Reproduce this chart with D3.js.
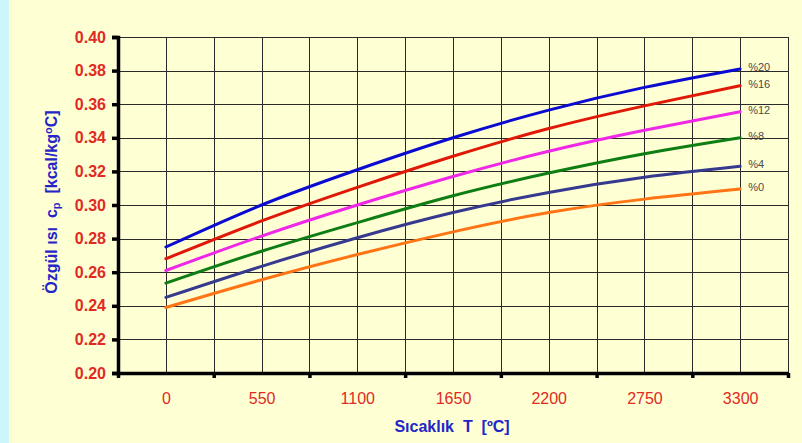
<!DOCTYPE html>
<html>
<head>
<meta charset="utf-8">
<script src="https://cdn.jsdelivr.net/npm/d3@7"></script>
<style>
  html, body { margin: 0; padding: 0; background: #ffffd4; }
  svg { display: block; font-family: Arial, "Liberation Sans", sans-serif; }
</style>
</head>
<body>
<svg id="chart"></svg>
<script>
// Categories on the x axis (temperature, ºC)
const temps = ["0", "550", "1100", "1650", "2200", "2750", "3300"];
const yTicks = [0.20, 0.22, 0.24, 0.26, 0.28, 0.30, 0.32, 0.34, 0.36, 0.38, 0.40];

// series names and values
const seriesNames = ["%20", "%16", "%12", "%8", "%4", "%0"];
const seriesColors = ["#0a0ad0", "#e01808", "#ee28e6", "#0e7e14", "#363a8e", "#ff7414"];
const s20 = [0.275, 0.300, 0.321, 0.340, 0.3565, 0.370, 0.381];
const s16 = [0.268, 0.2905, 0.3105, 0.329, 0.3455, 0.359, 0.371];
const s12 = [0.261, 0.2815, 0.300, 0.317, 0.332, 0.3445, 0.3555];
const s8  = [0.2535, 0.2725, 0.2895, 0.3055, 0.319, 0.3305, 0.340];
const s4  = [0.245, 0.2635, 0.2805, 0.2955, 0.3075, 0.3165, 0.323];
const s0  = [0.239, 0.2555, 0.2705, 0.284, 0.2955, 0.3035, 0.3095];
const seriesValues = [s20, s16, s12, s8, s4, s0];

const width = 802, height = 443;
const margin = { left: 118, right: 14, top: 37, bottom: 70 };

const svg = d3.select("#chart").attr("width", width).attr("height", height);

// background: cyan strip on the left, pale yellow elsewhere
svg.append("rect").attr("width", width).attr("height", height).attr("fill", "#ffffd4");
svg.append("rect").attr("width", 9).attr("height", height).attr("fill", "#ccf6fc");

// x is positioned by category index, boundaries at i +/- 0.5
const x = d3.scaleLinear()
    .domain([-0.5, temps.length - 0.5])
    .range([margin.left, width - margin.right]);
const y = d3.scaleLinear()
    .domain([0.20, 0.40])
    .range([height - margin.bottom, margin.top]);

// gridlines
const grid = svg.append("g").attr("stroke", "#2a2a2a").attr("stroke-width", 1);
grid.selectAll(".hg").data(yTicks).join("line")
    .attr("x1", x(-0.5)).attr("x2", x(temps.length - 0.5))
    .attr("y1", d => Math.round(y(d)) + 0.5).attr("y2", d => Math.round(y(d)) + 0.5);
const vLines = d3.range(-0.5, temps.length, 0.5);
grid.selectAll(".vg").data(vLines).join("line")
    .attr("x1", d => Math.round(x(d)) + 0.5).attr("x2", d => Math.round(x(d)) + 0.5)
    .attr("y1", y(0.40)).attr("y2", y(0.20));

// series lines
const line = d3.line()
    .x((d, i) => x(i))
    .y(d => y(d))
    .curve(d3.curveNatural);

svg.append("g").selectAll("path").data(seriesValues).join("path")
    .attr("d", line)
    .attr("fill", "none")
    .attr("stroke", (d, i) => seriesColors[i])
    .attr("stroke-width", 3)
    .attr("stroke-linecap", "round");

// series labels at the end of each line
svg.append("g").selectAll("text").data(seriesValues).join("text")
    .attr("x", x(temps.length - 1) + 8)
    .attr("y", d => y(d[d.length - 1]) - 2)
    .attr("dy", "0.35em")
    .attr("font-size", 11)
    .attr("fill", "#4a4a4a")
    .text((d, i) => seriesNames[i]);

// y axis
const yAxis = svg.append("g")
    .attr("transform", `translate(${x(-0.5)},0)`)
    .call(d3.axisLeft(y).tickValues(yTicks).tickFormat(d3.format(".2f")).tickSize(6).tickPadding(6));
yAxis.select(".domain").attr("stroke", "#000").attr("stroke-width", 3.5);
yAxis.selectAll(".tick line").attr("stroke", "#000").attr("stroke-width", 3.5);
yAxis.selectAll(".tick text")
    .attr("fill", "#e02a24").attr("font-size", 16).attr("font-weight", "bold")
    .attr("font-family", "Arial, 'Liberation Sans', sans-serif");

// x axis: tick marks at category boundaries
const xTickAxis = svg.append("g")
    .attr("transform", `translate(0,${y(0.20)})`)
    .call(d3.axisBottom(x).tickValues(d3.range(-0.5, temps.length, 1)).tickFormat("").tickSize(5).tickSizeOuter(0));
xTickAxis.select(".domain").attr("stroke", "#000").attr("stroke-width", 3.5);
xTickAxis.selectAll(".tick line").attr("stroke", "#000").attr("stroke-width", 3.5);

// x axis labels at category centres
const xLabelAxis = svg.append("g")
    .attr("transform", `translate(0,${y(0.20)})`)
    .call(d3.axisBottom(x).tickValues(d3.range(temps.length)).tickFormat(i => temps[i]).tickSize(0).tickPadding(20));
xLabelAxis.select(".domain").remove();
xLabelAxis.selectAll(".tick text")
    .attr("fill", "#e02a24").attr("font-size", 16)
    .attr("font-family", "Arial, 'Liberation Sans', sans-serif");

// axis titles
svg.append("text")
    .attr("x", (x(-0.5) + x(temps.length - 0.5)) / 2 - 1)
    .attr("y", 432)
    .attr("text-anchor", "middle")
    .attr("font-size", 16).attr("font-weight", "bold").attr("fill", "#2424c8")
    .attr("xml:space", "preserve")
    .text("Sıcaklık  T  [ºC]");

const yTitle = svg.append("text")
    .attr("transform", "translate(57,202) rotate(-90)")
    .attr("text-anchor", "middle")
    .attr("font-size", 16).attr("font-weight", "bold").attr("fill", "#2424c8")
    .attr("xml:space", "preserve");
yTitle.append("tspan").text("Özgül ısı  c");
yTitle.append("tspan").attr("font-size", 11).attr("dy", 3).text("p");
yTitle.append("tspan").attr("dy", -3).text("  [kcal/kg");
yTitle.append("tspan").attr("font-size", 11).attr("dy", -5).text("o");
yTitle.append("tspan").attr("dy", 5).text("C]");
</script>
</body>
</html>
